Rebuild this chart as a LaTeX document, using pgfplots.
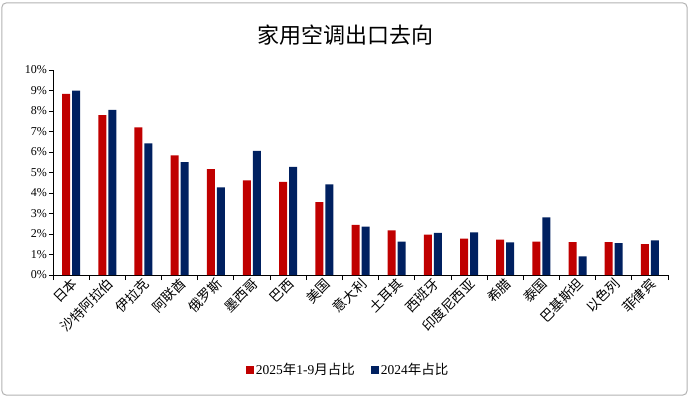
\documentclass[border=0pt]{standalone}
\usepackage{fontspec}
\setmainfont{Liberation Serif}
\newfontfamily\cjk{Noto Sans CJK SC}
\usepackage{pgfplots}
\pgfplotsset{compat=1.18}
\definecolor{cred}{HTML}{C00000}
\definecolor{cblue}{HTML}{002060}
\begin{document}
\begin{tikzpicture}[x=1pt,y=1pt]
\useasboundingbox (-53,-122) rectangle (637,275);
\draw[black!30, rounded corners=4pt, line width=1pt] (-51,-120) rectangle (634,272);
\node[font=\cjk\fontsize{22}{26}\selectfont] at (292,240) {家用空调出口去向};
\begin{axis}[
  at={(0,0)}, anchor=south west,
  scale only axis, width=615pt, height=205pt,
  ybar=2pt, bar width=8pt,
  xmin=-0.5, xmax=16.5, ymin=0, ymax=10,
  axis x line*=bottom, axis y line*=left,
  axis line style={black, line width=0.8pt},
  xtick={0,...,16},
  xticklabels={日本,沙特阿拉伯,伊拉克,阿联酋,俄罗斯,墨西哥,巴西,美国,意大利,土耳其,西班牙,印度尼西亚,希腊,泰国,巴基斯坦,以色列,菲律宾},
  major x tick style={draw=none},
  minor xtick={-0.5,0.5,...,16.5},
  ytick={0,...,10},
  yticklabel={\pgfmathprintnumber{\tick}\%},
  /pgf/number format/assume math mode=true,
  tick align=outside,
  tick style={black, line width=0.8pt},
  major tick length=4pt, minor tick length=5pt,
  x tick label style={font=\cjk\fontsize{13.5}{13.5}\selectfont, rotate=45, anchor=east, inner sep=2pt, xshift=3pt, yshift=-4pt},
  y tick label style={font=\fontsize{12}{12}\selectfont, inner sep=2pt},
  legend style={at={(0.48,-0.463)}, anchor=center, draw=none, fill=none,
    legend columns=2, font=\fontsize{13.5}{15}\selectfont,
    /tikz/every even column/.append style={column sep=14pt}},
  legend image code/.code={\fill[#1] (0pt,-4pt) rectangle (8pt,4pt);},
]
\addplot[fill=cred, draw=none] coordinates {
(0,8.83) (1,7.80) (2,7.20) (3,5.84) (4,5.17) (5,4.62) (6,4.54) (7,3.56) (8,2.44)
(9,2.18) (10,1.97) (11,1.77) (12,1.72) (13,1.63) (14,1.60) (15,1.60) (16,1.51)};
\addplot[fill=cblue, draw=none] coordinates {
(0,9.00) (1,8.05) (2,6.42) (3,5.51) (4,4.28) (5,6.05) (6,5.28) (7,4.42) (8,2.36)
(9,1.63) (10,2.05) (11,2.08) (12,1.59) (13,2.81) (14,0.91) (15,1.56) (16,1.69)};
\legend{2025{\cjk 年}1-9{\cjk 月占比}, 2024{\cjk 年占比}}
\end{axis}
\end{tikzpicture}
\end{document}
